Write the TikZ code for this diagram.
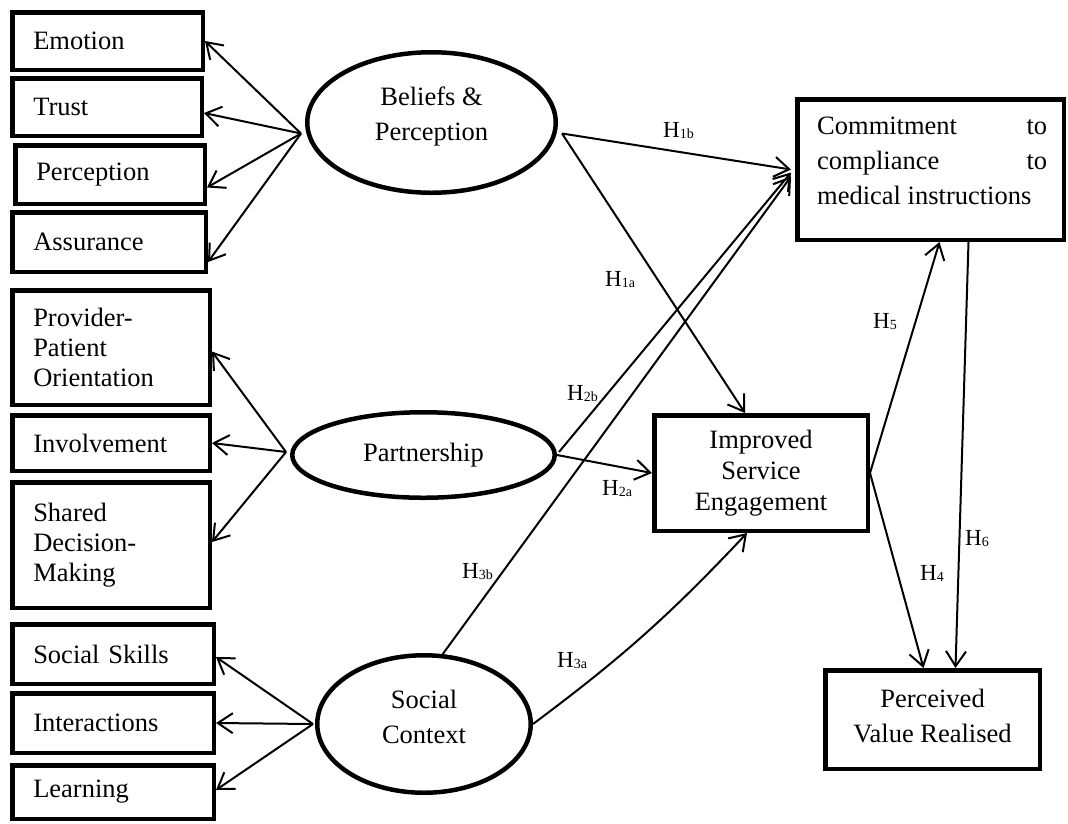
\documentclass[tikz,border=0pt]{standalone}
\usepackage{fontspec}
\setmainfont{Liberation Serif}
\usetikzlibrary{arrows.meta,shapes.geometric}
% hypothesis label: H with a small index
\newcommand\hyp[1]{H{\fontsize{14}{14}\selectfont\raisebox{-1pt}{#1}}}
\begin{document}
\begin{tikzpicture}[x=1pt,y=-1pt,
  every node/.style={font=\fontsize{26.5}{30}\selectfont},
  itembox/.style={draw, rectangle, line width=4.5pt, align=left,
    inner xsep=21pt, inner ysep=0pt, fill=white},
  latent/.style={draw, ellipse, line width=4.5pt, inner sep=0pt},
  outcome/.style={draw, rectangle, line width=4.5pt, inner sep=0pt},
  txt/.style={inner sep=0pt, align=center, anchor=north,
    font=\fontsize{26.5}{35}\selectfont},
  conn/.style={line width=2pt, -{Straight Barb[length=15pt,width=20pt]}},
  hlab/.style={inner sep=0pt, anchor=base west, font=\fontsize{23}{23}\selectfont}]
\useasboundingbox (0,0) rectangle (1068,823);

% indicator boxes
\node[itembox, text width=148.5pt, minimum height=57.5pt] (em) at (107.5,41) {Emotion};
\node[itembox, text width=147.5pt, minimum height=57.5pt] (tr) at (107,107) {Trust};
\node[itembox, text width=147.5pt, minimum height=58.5pt] (pe) at (110,174.5) {Perception};
\node[itembox, text width=151.5pt, minimum height=59.5pt] (as) at (109,242) {Assurance};
\node[itembox, text width=155.5pt, minimum height=114.5pt] (pp) at (111,347.5) {Provider-\\Patient\\Orientation};
\node[itembox, text width=155.5pt, minimum height=55.5pt] (in) at (111,443) {Involvement};
\node[itembox, text width=155.5pt, minimum height=125.5pt] (sd) at (111,545) {Shared\\Decision-\\Making};
\node[itembox, text width=159.5pt, minimum height=59.5pt] (ss) at (113,654) {Social Skills};
\node[itembox, text width=159.5pt, minimum height=59.5pt] (ia) at (113,723) {Interactions};
\node[itembox, text width=159.5pt, minimum height=53.5pt] (le) at (113,792) {Learning};

% latent constructs
\node[latent, minimum width=248.5pt, minimum height=140.5pt] (bp) at (431.5,122.5) {};
\node[txt] (bptext) at (431.5,87) {Beliefs \&\\Perception};
\node[latent, minimum width=262.5pt, minimum height=85.5pt] (pa) at (423.5,455) {Partnership};
\node[latent, minimum width=213.5pt, minimum height=137.5pt] (so) at (424,724) {};
\node[txt] (sotext) at (424,690) {Social\\Context};

% outcome boxes
\node[outcome, minimum width=266.5pt, minimum height=140.5pt] (cm) at (930.5,169.5) {};
\node[inner sep=0pt, align=left, anchor=north west,
  font=\fontsize{26.5}{35}\selectfont] (cmtext) at (817,117)
  {\makebox[230pt][l]{Commitment\hfill to}\\
   \makebox[230pt][l]{compliance\hfill to}\\
   \makebox[230pt][l]{medical instructions}};
\node[outcome, minimum width=213.5pt, minimum height=115.5pt, align=center,
  font=\fontsize{26.5}{31}\selectfont] (ise) at (761,473) {Improved\\Service\\Engagement};
\node[outcome, minimum width=214.5pt, minimum height=98.5pt] (pv) at (932.5,719.5) {};
\node[txt] (pvtext) at (932.5,689) {Perceived\\Value Realised};

% hubs where the indicator arrows leave the constructs
\coordinate (bpL) at ([shift={(-4pt,-11pt)}]bp.west);
\coordinate (bpR) at ([shift={(4pt,-11pt)}]bp.east);
\coordinate (paL) at ([shift={(-4pt,3pt)}]pa.west);
\coordinate (soL) at ([shift={(-2pt,0pt)}]so.west);

% reflective indicators
\draw[conn] (bpL) -- (em.east);
\draw[conn] (bpL) -- ([yshift=-6pt]tr.east);
\draw[conn] (bpL) -- ([yshift=-13pt]pe.east);
\draw[conn] (bpL) -- ([yshift=-20pt]as.east);
\draw[conn] (paL) -- ([yshift=-4pt]pp.east);
\draw[conn] (paL) -- (in.east);
\draw[conn] (paL) -- ([yshift=3pt]sd.east);
\draw[conn] (soL) -- ([yshift=-3pt]ss.east);
\draw[conn] (soL) -- (ia.east);
\draw[conn] (soL) -- ([yshift=2pt]le.east);

% structural paths
\draw[conn] (bpR) -- ([xshift=-4pt]cm.west);
\draw[conn] (bpR) -- ([xshift=-16pt]ise.north);
\draw[conn] (pa.east) -- (ise.west);
\draw[conn] ([shift={(2pt,3pt)}]pa.east) -- ([shift={(-4pt,-3pt)}]cm.west);
\draw[conn] (so.75) -- ([shift={(-4pt,-7pt)}]cm.west);
\draw[conn] (so.east) to[bend right=5] ([xshift=-14pt]ise.south);
\draw[conn] (ise.east) -- ([xshift=9pt]cm.south);
\draw[conn] (ise.east) -- ([xshift=-9pt]pv.north);
\draw[conn] ([xshift=38pt]cm.south) -- ([xshift=23pt]pv.north);

% path labels
\node[hlab] (h1b) at (663,137) {\hyp{1b}};
\node[hlab] (h1a) at (605,286) {\hyp{1a}};
\node[hlab] (h2b) at (567,400) {\hyp{2b}};
\node[hlab] (h2a) at (602,495) {\hyp{2a}};
\node[hlab] (h3b) at (462,578) {\hyp{3b}};
\node[hlab] (h3a) at (557,667) {\hyp{3a}};
\node[hlab] (h5) at (873,328) {\hyp{5}};
\node[hlab] (h6) at (965,545) {\hyp{6}};
\node[hlab] (h4) at (920,580) {\hyp{4}};
\end{tikzpicture}
\end{document}
